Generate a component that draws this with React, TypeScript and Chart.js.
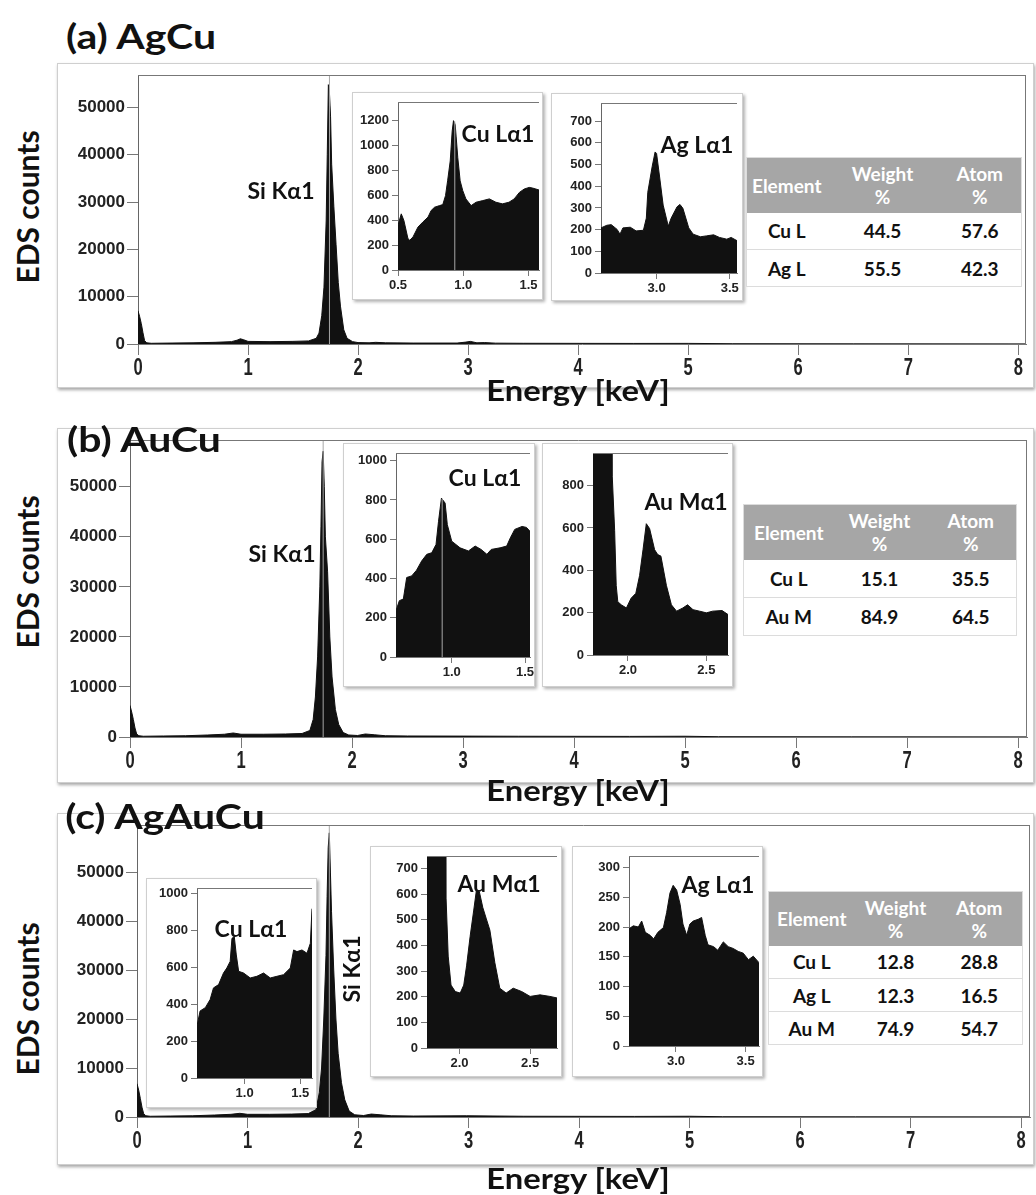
import React, { useEffect, useRef } from "react";
import { Chart, registerables } from "chart.js";

Chart.register(...registerables);

// ---------------- data ----------------
const MAIN_X_TICKS = [0, 1, 2, 3, 4, 5, 6, 7, 8];
const MAIN_Y_TICKS = [0, 10000, 20000, 30000, 40000, 50000];
const SI_KA1_KEV = 1.74;
const CU_LA1_KEV = 0.935;

// (a) AgCu main spectrum
const aKeV = [0, 0.015, 0.03, 0.045, 0.06, 0.08, 0.12, 0.3, 0.5, 0.7, 0.85, 0.9, 0.93, 0.96, 1.0, 1.2, 1.4, 1.55, 1.62, 1.645, 1.67, 1.69, 1.71, 1.72, 1.73, 1.74, 1.75, 1.76, 1.78, 1.8, 1.82, 1.84, 1.87, 1.9, 1.95, 2.0, 2.1, 2.16, 2.25, 2.5, 2.9, 2.98, 3.02, 3.08, 3.15, 3.25, 3.5, 4.5, 5.0, 5.4, 6.5, 8.1];
const aCounts = [7000, 5800, 4300, 2400, 700, 250, 150, 200, 250, 350, 500, 800, 1100, 900, 550, 500, 550, 650, 1200, 2300, 6000, 12000, 26000, 40000, 54800, 53000, 48000, 38000, 29000, 21000, 13000, 8000, 3000, 1200, 500, 300, 250, 350, 250, 200, 200, 400, 550, 250, 300, 180, 150, 120, 130, 60, 30, 20];

// (b) AuCu main spectrum
const bKeV = [0, 0.015, 0.03, 0.045, 0.06, 0.08, 0.12, 0.3, 0.5, 0.7, 0.85, 0.93, 1.0, 1.2, 1.4, 1.55, 1.62, 1.65, 1.67, 1.69, 1.71, 1.72, 1.73, 1.74, 1.75, 1.76, 1.78, 1.8, 1.82, 1.85, 1.88, 1.92, 1.97, 2.05, 2.12, 2.2, 2.3, 2.5, 3.0, 3.5, 4.5, 5.0, 5.3, 6.5, 8.1];
const bCounts = [6300, 5000, 3500, 1800, 600, 250, 150, 200, 250, 400, 550, 800, 550, 550, 600, 700, 1300, 3500, 8000, 16000, 30000, 42000, 55000, 57100, 50000, 40000, 33000, 20000, 12000, 5500, 2500, 900, 400, 300, 600, 450, 250, 200, 180, 150, 120, 150, 60, 30, 20];

// (c) AgAuCu main spectrum
const cKeV = [0, 0.015, 0.03, 0.045, 0.06, 0.08, 0.12, 0.3, 0.5, 0.7, 0.85, 0.93, 1.0, 1.2, 1.4, 1.55, 1.62, 1.65, 1.67, 1.69, 1.71, 1.72, 1.73, 1.74, 1.75, 1.76, 1.78, 1.8, 1.82, 1.85, 1.88, 1.92, 1.97, 2.05, 2.12, 2.2, 2.3, 2.5, 2.98, 3.5, 4.5, 5.0, 5.3, 6.5, 8.1];
const cCounts = [6800, 5500, 3800, 2000, 700, 250, 150, 200, 250, 400, 550, 750, 550, 550, 600, 700, 1500, 5000, 10000, 20000, 33000, 45000, 55000, 58000, 50000, 42000, 30000, 20000, 13000, 7000, 3500, 1200, 450, 300, 600, 450, 250, 200, 250, 150, 120, 150, 60, 30, 20];

// insets
const aCuKeV = [0.5, 0.525, 0.545, 0.576, 0.59, 0.615, 0.653, 0.69, 0.73, 0.754, 0.78, 0.818, 0.843, 0.864, 0.88, 0.9, 0.915, 0.925, 0.938, 0.945, 0.958, 0.976, 0.996, 1.02, 1.06, 1.098, 1.149, 1.2, 1.25, 1.3, 1.35, 1.39, 1.43, 1.467, 1.505, 1.53, 1.556, 1.58];
const aCuCounts = [358, 450, 397, 252, 238, 265, 344, 384, 424, 477, 503, 516, 524, 596, 715, 874, 1113, 1197, 1165, 1073, 900, 715, 636, 570, 516, 543, 556, 570, 543, 530, 543, 570, 622, 649, 662, 657, 649, 641];
const aCuMarkerTop = 1190;
const aAgKeV = [2.62, 2.66, 2.69, 2.73, 2.75, 2.77, 2.82, 2.86, 2.91, 2.93, 2.94, 2.97, 2.99, 3.0, 3.02, 3.045, 3.08, 3.1, 3.14, 3.16, 3.18, 3.22, 3.25, 3.3, 3.34, 3.39, 3.43, 3.48, 3.51, 3.55];
const aAgCounts = [208, 220, 223, 201, 179, 208, 211, 194, 197, 253, 372, 491, 558, 551, 447, 313, 216, 253, 305, 316, 298, 208, 179, 167, 171, 176, 164, 156, 164, 149];

const bCuKeV = [0.62, 0.643, 0.67, 0.693, 0.727, 0.76, 0.795, 0.83, 0.864, 0.893, 0.91, 0.93, 0.955, 0.97, 1.0, 1.057, 1.114, 1.16, 1.2, 1.24, 1.27, 1.33, 1.375, 1.4, 1.43, 1.48, 1.51, 1.534];
const bCuCounts = [236, 287, 295, 405, 413, 442, 489, 523, 531, 573, 691, 809, 784, 674, 590, 556, 540, 565, 548, 523, 548, 556, 565, 607, 650, 665, 660, 640];
const bCuMarkerTop = 805;
const bAuKeV = [1.777, 1.894, 1.9, 1.915, 1.925, 1.935, 1.957, 1.99, 2.02, 2.05, 2.074, 2.096, 2.117, 2.138, 2.17, 2.19, 2.21, 2.245, 2.277, 2.31, 2.35, 2.38, 2.415, 2.457, 2.5, 2.54, 2.6, 2.638];
const bAuCounts = [3000, 3000, 841, 589, 329, 252, 237, 222, 268, 291, 375, 497, 620, 597, 497, 474, 467, 329, 237, 207, 222, 237, 214, 207, 199, 207, 210, 191];

const cCuKeV = [0.572, 0.6, 0.647, 0.69, 0.72, 0.766, 0.81, 0.84, 0.87, 0.886, 0.907, 0.925, 0.946, 0.99, 1.05, 1.11, 1.17, 1.23, 1.29, 1.35, 1.41, 1.44, 1.47, 1.515, 1.56, 1.59, 1.605];
const cCuCounts = [283, 364, 382, 426, 489, 507, 570, 597, 633, 758, 767, 668, 579, 570, 543, 552, 570, 543, 552, 561, 597, 695, 686, 695, 677, 731, 919];
const cAuKeV = [1.77, 1.9, 1.905, 1.92, 1.94, 1.97, 2.005, 2.03, 2.05, 2.075, 2.1, 2.12, 2.14, 2.165, 2.19, 2.215, 2.25, 2.285, 2.33, 2.38, 2.44, 2.5, 2.57, 2.64, 2.69];
const cAuCounts = [3000, 3000, 584, 358, 245, 220, 214, 245, 320, 434, 534, 616, 610, 547, 503, 459, 333, 233, 214, 233, 220, 201, 207, 201, 195];
const cAgKeV = [2.663, 2.694, 2.73, 2.754, 2.78, 2.815, 2.84, 2.87, 2.91, 2.933, 2.957, 2.98, 3.005, 3.03, 3.05, 3.077, 3.1, 3.124, 3.16, 3.184, 3.21, 3.23, 3.27, 3.3, 3.34, 3.375, 3.41, 3.447, 3.483, 3.52, 3.555, 3.596];
const cAgCounts = [197, 202, 200, 210, 191, 186, 180, 191, 199, 224, 257, 270, 262, 238, 205, 186, 205, 210, 213, 216, 186, 170, 167, 161, 175, 167, 164, 159, 156, 145, 151, 140];

// composition tables
const TABLE_HEAD = ["Element", "Weight\n%", "Atom\n%"];
const aElements = ["Cu L", "Ag L"];
const aWeight = [44.5, 55.5];
const aAtom = [57.6, 42.3];
const bElements = ["Cu L", "Au M"];
const bWeight = [15.1, 84.9];
const bAtom = [35.5, 64.5];
const cElements = ["Cu L", "Ag L", "Au M"];
const cWeight = [12.8, 12.3, 74.9];
const cAtom = [28.8, 16.5, 54.7];

// ---------------- components ----------------
type Rect = { l: number; t: number; r: number; b: number };

interface SpecProps {
  box: Rect;
  plot: Rect;
  keV: number[];
  counts: number[];
  xMin: number;
  xMax: number;
  yMax: number;
  xTicks: number[];
  yTicks: number[];
  decimals: number;
  marker?: number;
  markerTop?: number;
  fontSize: number;
  xFontSize: number;
  xCondense: number;
  tickLen: number;
  tickPad: number;
  rightBorder: boolean;
}

const TICK_FAMILY = "'Liberation Sans', Arial, sans-serif";

function Spectrum(p: SpecProps) {
  const ref = useRef<HTMLCanvasElement>(null);
  const w = p.box.r - p.box.l;
  const h = p.box.b - p.box.t;
  useEffect(() => {
    const datasets: any[] = [
      {
        data: p.keV.map((x, i) => ({ x, y: p.counts[i] })),
        fill: "origin",
        backgroundColor: "#111",
        borderColor: "#111",
        borderWidth: 1,
        pointRadius: 0,
        tension: 0,
        order: 2,
      },
    ];
    if (p.marker !== undefined) {
      datasets.push({
        data: [
          { x: p.marker, y: 0 },
          { x: p.marker, y: p.markerTop !== undefined ? p.markerTop : p.yMax },
        ],
        borderColor: "#a8a8a8",
        borderWidth: 1,
        pointRadius: 0,
        fill: false,
        order: 1,
      });
    }
    const framePlugin = {
      id: "frameLines",
      afterDatasetsDraw(chart: any) {
        const { ctx, chartArea: a } = chart;
        ctx.save();
        ctx.strokeStyle = "#777";
        ctx.lineWidth = 1;
        ctx.beginPath();
        ctx.moveTo(a.left, Math.floor(a.top) + 0.5);
        ctx.lineTo(a.right, Math.floor(a.top) + 0.5);
        if (p.rightBorder) {
          ctx.moveTo(Math.floor(a.right) - 0.5, a.top);
          ctx.lineTo(Math.floor(a.right) - 0.5, a.bottom);
        }
        ctx.stroke();
        ctx.restore();
      },
      afterDraw(chart: any) {
        // x tick labels, drawn at the library's tick positions in a condensed face
        const { ctx } = chart;
        const xs = chart.scales.x;
        ctx.save();
        ctx.fillStyle = "#222";
        ctx.font = `bold ${p.xFontSize}px ${TICK_FAMILY}`;
        ctx.textAlign = "center";
        ctx.textBaseline = "top";
        xs.ticks.forEach((t: any) => {
          const px = xs.getPixelForValue(t.value);
          ctx.save();
          ctx.translate(px, xs.top + p.tickLen + p.tickPad);
          ctx.scale(p.xCondense, 1);
          ctx.fillText(Number(t.value).toFixed(p.decimals), 0, 0);
          ctx.restore();
        });
        ctx.restore();
      },
    };
    const font = { family: TICK_FAMILY, size: p.fontSize, weight: "bold" as const };
    const chart = new Chart(ref.current as HTMLCanvasElement, {
      type: "line",
      data: { datasets },
      options: {
        responsive: false,
        maintainAspectRatio: false,
        animation: false,
        events: [],
        layout: {
          padding: { top: p.plot.t - p.box.t, right: p.box.r - p.plot.r, left: 0, bottom: 0 },
        },
        plugins: { legend: { display: false }, tooltip: { enabled: false } },
        scales: {
          x: {
            type: "linear",
            min: p.xMin,
            max: p.xMax,
            afterBuildTicks: (s: any) => {
              s.ticks = p.xTicks.map((v) => ({ value: v }));
            },
            afterFit: (s: any) => {
              s.height = p.box.b - p.plot.b;
            },
            ticks: { display: false, autoSkip: false, maxRotation: 0 },
            grid: { display: true, drawOnChartArea: false, drawTicks: true, tickLength: p.tickLen, color: "#777" },
            border: { display: true, color: "#777" },
          },
          y: {
            type: "linear",
            min: 0,
            max: p.yMax,
            afterBuildTicks: (s: any) => {
              s.ticks = p.yTicks.map((v) => ({ value: v }));
            },
            afterFit: (s: any) => {
              s.width = p.plot.l - p.box.l;
            },
            ticks: {
              font,
              color: "#222",
              padding: p.tickPad,
              autoSkip: false,
              callback: (v: any) => String(v),
            },
            grid: { display: true, drawOnChartArea: false, drawTicks: true, tickLength: p.tickLen, color: "#777" },
            border: { display: true, color: "#666" },
          },
        },
      },
      plugins: [framePlugin],
    });
    return () => chart.destroy();
  }, []);
  return (
    <canvas
      ref={ref}
      width={w}
      height={h}
      style={{ position: "absolute", left: p.box.l, top: p.box.t, width: w, height: h }}
    />
  );
}

function Frame({ box, shadow }: { box: Rect; shadow: string }) {
  return (
    <div
      style={{
        position: "absolute",
        left: box.l,
        top: box.t,
        width: box.r - box.l - 2,
        height: box.b - box.t - 2,
        border: "1px solid #cfcfcf",
        boxShadow: shadow,
        background: "#fff",
      }}
    />
  );
}

const CAL = "Lato, 'Open Sans', sans-serif";

function Label({
  text,
  x,
  y,
  size,
  rotate,
  sx = 1,
}: {
  text: string;
  x: number;
  y: number;
  size: number;
  rotate?: boolean;
  sx?: number;
}) {
  return (
    <div
      style={{
        position: "absolute",
        left: x,
        top: y,
        transform: `translate(-50%, -50%)${rotate ? " rotate(-90deg)" : ""} scaleX(${sx})`,
        fontFamily: CAL,
        fontWeight: 700,
        fontSize: size,
        lineHeight: 1,
        whiteSpace: "nowrap",
        color: "#111",
      }}
    >
      {text}
    </div>
  );
}

function CompTable({
  l,
  t,
  cols,
  headH,
  rowH,
  elements,
  weight,
  atom,
}: {
  l: number;
  t: number;
  cols: number[];
  headH: number;
  rowH: number;
  elements: string[];
  weight: number[];
  atom: number[];
}) {
  const total = cols.reduce((s, c) => s + c, 0);
  const cell: React.CSSProperties = {
    textAlign: "center",
    padding: 0,
    fontFamily: CAL,
    fontWeight: 700,
  };
  return (
    <table
      style={{
        position: "absolute",
        left: l,
        top: t,
        width: total,
        borderCollapse: "collapse",
        tableLayout: "fixed",
        background: "#fff",
        border: "1px solid #dcdcdc",
      }}
    >
      <colgroup>
        {cols.map((c, i) => (
          <col key={i} style={{ width: c }} />
        ))}
      </colgroup>
      <thead>
        <tr style={{ height: headH, background: "#a6a6a6" }}>
          {TABLE_HEAD.map((hd, i) => (
            <th
              key={i}
              style={{ ...cell, color: "#fff", fontSize: 19, lineHeight: "23px", whiteSpace: "pre-line" }}
            >
              {hd}
            </th>
          ))}
        </tr>
      </thead>
      <tbody>
        {elements.map((el, i) => (
          <tr key={i} style={{ height: rowH, borderTop: i ? "1px solid #dcdcdc" : "none" }}>
            <td style={{ ...cell, fontSize: 19, color: "#111" }}>{el}</td>
            <td style={{ ...cell, fontSize: 19, color: "#111" }}>{weight[i].toFixed(1)}</td>
            <td style={{ ...cell, fontSize: 19, color: "#111" }}>{atom[i].toFixed(1)}</td>
          </tr>
        ))}
      </tbody>
    </table>
  );
}

const MAIN_SHADOW = "1px 2px 3px rgba(0,0,0,0.35)";
const INSET_SHADOW = "2px 2px 3px rgba(0,0,0,0.3)";

type InsetProps = Omit<SpecProps, "fontSize" | "xFontSize" | "xCondense" | "tickLen" | "tickPad" | "rightBorder">;

function Inset(props: InsetProps) {
  return (
    <>
      <Frame box={props.box} shadow={INSET_SHADOW} />
      <Spectrum {...props} fontSize={13} xFontSize={13} xCondense={1} tickLen={6} tickPad={3} rightBorder={false} />
    </>
  );
}

function Main(props: { box: Rect; plot: Rect; keV: number[]; counts: number[]; xMax: number; yMax: number }) {
  return (
    <>
      <Frame box={props.box} shadow={MAIN_SHADOW} />
      <Spectrum
        box={props.box}
        plot={props.plot}
        keV={props.keV}
        counts={props.counts}
        xMin={0}
        xMax={props.xMax}
        yMax={props.yMax}
        xTicks={MAIN_X_TICKS}
        yTicks={MAIN_Y_TICKS}
        decimals={0}
        marker={SI_KA1_KEV}
        fontSize={17}
        xFontSize={23}
        xCondense={0.72}
        tickLen={11}
        tickPad={2}
        rightBorder={true}
      />
    </>
  );
}

const TITLE_SX = 1.17;

export default function App() {
  useEffect(() => {
    document.body.style.margin = "0";
  }, []);
  return (
    <div style={{ position: "relative", width: 1036, height: 1195, background: "#fff", overflow: "hidden" }}>
      {/* ---------- (a) ---------- */}
      <Main
        box={{ l: 57, t: 63, r: 1034, b: 388 }}
        plot={{ l: 138, t: 69, r: 1026, b: 344 }}
        keV={aKeV}
        counts={aCounts}
        xMax={8.07}
        yMax={56800}
      />
      <Inset
        box={{ l: 352, t: 92, r: 543, b: 300 }}
        plot={{ l: 398, t: 101, r: 539, b: 270 }}
        keV={aCuKeV}
        counts={aCuCounts}
        xMin={0.5}
        xMax={1.58}
        yMax={1340}
        xTicks={[0.5, 1.0, 1.5]}
        yTicks={[0, 200, 400, 600, 800, 1000, 1200]}
        decimals={1}
        marker={CU_LA1_KEV}
        markerTop={aCuMarkerTop}
      />
      <Inset
        box={{ l: 551, t: 93, r: 743, b: 301 }}
        plot={{ l: 601, t: 99, r: 737, b: 273 }}
        keV={aAgKeV}
        counts={aAgCounts}
        xMin={2.62}
        xMax={3.55}
        yMax={780}
        xTicks={[3.0, 3.5]}
        yTicks={[0, 100, 200, 300, 400, 500, 600, 700]}
        decimals={1}
      />
      <CompTable l={746} t={157} cols={[80, 112, 83]} headH={55} rowH={37} elements={aElements} weight={aWeight} atom={aAtom} />
      <Label text="(a) AgCu" x={141} y={35} size={35} sx={TITLE_SX} />
      <Label text="EDS counts" x={27} y={207} size={30} rotate />
      <Label text="Si Kα1" x={281} y={190} size={23} />
      <Label text="Cu Lα1" x={498} y={133} size={23} />
      <Label text="Ag Lα1" x={697} y={144} size={23} />
      <Label text="Energy [keV]" x={578} y={390} size={28} sx={TITLE_SX} />

      {/* ---------- (b) ---------- */}
      <Main
        box={{ l: 57, t: 428, r: 1034, b: 783 }}
        plot={{ l: 130, t: 434, r: 1027, b: 737 }}
        keV={bKeV}
        counts={bCounts}
        xMax={8.08}
        yMax={59300}
      />
      <Inset
        box={{ l: 343, t: 443, r: 535, b: 687 }}
        plot={{ l: 396, t: 452, r: 530, b: 657 }}
        keV={bCuKeV}
        counts={bCuCounts}
        xMin={0.62}
        xMax={1.534}
        yMax={1035}
        xTicks={[1.0, 1.5]}
        yTicks={[0, 200, 400, 600, 800, 1000]}
        decimals={1}
        marker={CU_LA1_KEV}
        markerTop={bCuMarkerTop}
      />
      <Inset
        box={{ l: 542, t: 443, r: 733, b: 687 }}
        plot={{ l: 593, t: 448, r: 728, b: 655 }}
        keV={bAuKeV}
        counts={bAuCounts}
        xMin={1.777}
        xMax={2.638}
        yMax={950}
        xTicks={[2.0, 2.5]}
        yTicks={[0, 200, 400, 600, 800]}
        decimals={1}
      />
      <CompTable l={743} t={504} cols={[90, 92, 91]} headH={55} rowH={38} elements={bElements} weight={bWeight} atom={bAtom} />
      <Label text="(b) AuCu" x={144} y={438} size={35} sx={TITLE_SX} />
      <Label text="EDS counts" x={27} y={572} size={30} rotate />
      <Label text="Si Kα1" x={282} y={553} size={23} />
      <Label text="Cu Lα1" x={485} y={477} size={23} />
      <Label text="Au Mα1" x={686} y={501} size={23} />
      <Label text="Energy [keV]" x={578} y={790} size={28} sx={TITLE_SX} />

      {/* ---------- (c) ---------- */}
      <Main
        box={{ l: 57, t: 813, r: 1034, b: 1165 }}
        plot={{ l: 137, t: 818, r: 1030, b: 1117 }}
        keV={cKeV}
        counts={cCounts}
        xMax={8.08}
        yMax={59560}
      />
      <Inset
        box={{ l: 146, t: 878, r: 317, b: 1108 }}
        plot={{ l: 197, t: 887, r: 312, b: 1078 }}
        keV={cCuKeV}
        counts={cCuCounts}
        xMin={0.572}
        xMax={1.605}
        yMax={1027}
        xTicks={[1.0, 1.5]}
        yTicks={[0, 200, 400, 600, 800, 1000]}
        decimals={1}
      />
      <Inset
        box={{ l: 370, t: 846, r: 562, b: 1077 }}
        plot={{ l: 427, t: 851, r: 557, b: 1048 }}
        keV={cAuKeV}
        counts={cAuCounts}
        xMin={1.77}
        xMax={2.69}
        yMax={745}
        xTicks={[2.0, 2.5]}
        yTicks={[0, 100, 200, 300, 400, 500, 600, 700]}
        decimals={1}
      />
      <Inset
        box={{ l: 572, t: 846, r: 763, b: 1077 }}
        plot={{ l: 629, t: 851, r: 759, b: 1046 }}
        keV={cAgKeV}
        counts={cAgCounts}
        xMin={2.663}
        xMax={3.596}
        yMax={318}
        xTicks={[3.0, 3.5]}
        yTicks={[0, 50, 100, 150, 200, 250, 300]}
        decimals={1}
      />
      <CompTable l={768} t={891} cols={[86, 82, 86]} headH={54} rowH={33} elements={cElements} weight={cWeight} atom={cAtom} />
      <Label text="(c) AgAuCu" x={165} y={815} size={35} sx={TITLE_SX} />
      <Label text="EDS counts" x={27} y={999} size={30} rotate />
      <Label text="Si Kα1" x={351} y={969} size={23} rotate />
      <Label text="Cu Lα1" x={251} y={928} size={23} />
      <Label text="Au Mα1" x={499} y={883} size={23} />
      <Label text="Ag Lα1" x={718} y={884} size={23} />
      <Label text="Energy [keV]" x={578} y={1178} size={28} sx={TITLE_SX} />
    </div>
  );
}
